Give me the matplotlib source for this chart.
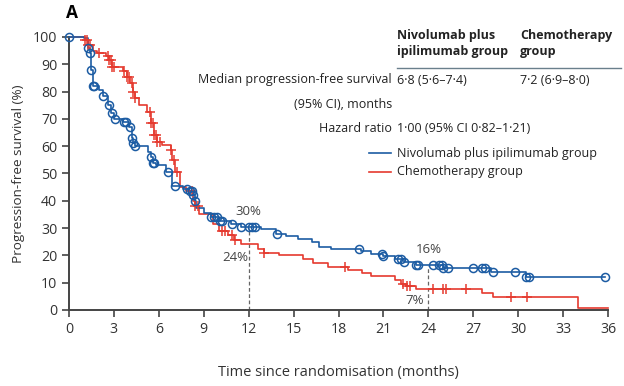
import numpy as np
import matplotlib
matplotlib.use("Agg")
import matplotlib.pyplot as plt

plt.rcParams['font.family'] = ['Open Sans', 'DejaVu Sans']

# Kaplan-Meier step data (months, % progression-free)
nivo_t = [0, 1.0, 1.3, 1.4, 1.45, 1.5, 1.6, 2.0, 2.3, 2.6, 2.8, 3.0, 3.6, 4.0, 4.2, 4.3,
          4.4, 5.3, 5.5, 5.6, 5.8, 6.5, 6.9, 7.6, 8.0, 8.3, 8.4, 8.5, 9.0, 9.5, 10.0,
          10.8, 11.5, 12.8, 13.8, 14.5, 15.3, 16.2, 16.7, 17.5, 19.5, 20.2, 21.0, 21.8,
          22.4, 23.2, 25.0, 28.2, 30.5, 35.8]
nivo_s = [100, 99.5, 96, 94, 92, 88, 82, 80.5, 78.5, 75, 72, 70, 69, 67, 63, 61,
          60, 58, 56, 54, 53, 50.5, 45.5, 44.5, 43.5, 42, 40, 37.5, 35.5, 34, 32.5,
          31.5, 30.3, 29.5, 28, 27, 26, 25, 23, 22.3, 21.5, 20.5, 19.8, 18.5,
          17.6, 16.3, 15.3, 14, 12, 12]
nivo_cens = [0, 1.3, 1.4, 1.5, 1.6, 1.7, 2.3, 2.7, 2.85, 3.1, 3.7, 3.8, 4.1, 4.2, 4.3,
             4.4, 5.5, 5.6, 5.7, 6.6, 7.1, 7.9, 8.1, 8.2, 8.3, 8.4, 9.5, 9.7, 9.9, 10.1,
             10.2, 10.9, 11.5, 12.0, 12.2, 12.4, 13.9, 19.4, 20.9, 21.0, 22.0, 22.2,
             22.4, 23.2, 23.3, 24.3, 24.7, 24.9, 25.0, 25.3, 27.0, 27.6, 27.8, 28.3,
             29.8, 30.5, 30.7, 35.8]

chemo_t = [0, 1.1, 1.3, 1.6, 1.9, 2.5, 2.7, 2.9, 3.6, 3.9, 4.1, 4.3, 4.4, 4.7, 5.2,
           5.5, 5.7, 5.9, 6.2, 6.8, 6.9, 7.1, 7.4, 7.8, 8.3, 8.4, 8.7, 9.6, 10.0,
           10.6, 11.0, 11.5, 12.6, 13.0, 14.0, 15.6, 16.3, 17.3, 18.6, 19.6, 20.2,
           21.8, 22.2, 22.5, 23.2, 27.6, 28.3, 34.0, 36.0]
chemo_s = [100, 99, 97, 95, 94, 93, 91.5, 89, 87.5, 85.5, 83, 80, 77.5, 75, 72.5,
           68.5, 64, 61.5, 60.3, 58.5, 55, 50.5, 45, 43.5, 40, 38, 35, 31.5, 29,
           27.5, 25.5, 24, 22.5, 21, 20, 18.5, 17.2, 15.8, 14.5, 13.5, 12.6,
           11, 9.5, 8.8, 7.6, 6.4, 4.8, 0.8, 0.8]
chemo_cens = [1.1, 1.2, 1.3, 1.4, 2.0, 2.6, 2.7, 2.8, 2.9, 3.0, 3.7, 3.9, 4.0, 4.2,
              4.3, 4.4, 5.4, 5.5, 5.6, 5.7, 5.8, 5.9, 6.1, 6.8, 7.0, 7.2, 8.2, 8.4,
              8.6, 10.2, 10.4, 10.9, 11.1, 13.0, 18.4, 22.3, 22.6, 22.8, 24.3, 25.0,
              25.2, 26.5, 29.5, 30.6]

landmarks = [12, 24]
nivo_landmark = [30, 16]
chemo_landmark = [24, 7]

blue = '#1c5ca3'
red = '#e53a2f'
grey = '#444444'


def step_at(t, s, x):
    idx = np.searchsorted(t, x, side='right') - 1
    return np.asarray(s)[idx]


fig = plt.figure(figsize=(6.24, 3.86), dpi=100)
ax = fig.add_axes([0.1106, 0.1969, 0.8638, 0.7073])

ax.step(nivo_t, nivo_s, where='post', color=blue, lw=1.2, clip_on=False, zorder=3)
ax.step(chemo_t, chemo_s, where='post', color=red, lw=1.2, clip_on=False, zorder=2)
ax.plot(nivo_cens, step_at(nivo_t, nivo_s, nivo_cens), 'o', ms=5.8, mfc='none',
        mec=blue, mew=1.1, clip_on=False, zorder=4)
ax.plot(chemo_cens, step_at(chemo_t, chemo_s, chemo_cens), '+', ms=7,
        mec=red, mew=1.1, clip_on=False, zorder=3)

for x, top in zip(landmarks, nivo_landmark):
    ax.plot([x, x], [0, top], ls=(0, (3, 2)), color='#666666', lw=0.9, zorder=1)

ax.text(12.0, 36, '30%', ha='center', va='center', fontsize=9.5, color=grey)
ax.text(11.1, 19.4, '24%', ha='center', va='center', fontsize=9.5, color=grey)
ax.text(24.0, 22.3, '16%', ha='center', va='center', fontsize=9.5, color=grey)
ax.text(23.1, 3.4, '7%', ha='center', va='center', fontsize=9.5, color=grey)

ax.set_xlim(0, 36)
ax.set_ylim(0, 100)
ax.set_xticks(np.arange(0, 37, 3))
ax.set_yticks(np.arange(0, 101, 10))
for sp in ['top', 'right']:
    ax.spines[sp].set_visible(False)
for sp in ['left', 'bottom']:
    ax.spines[sp].set_linewidth(1.4)
    ax.spines[sp].set_color(grey)
ax.tick_params(direction='out', length=5, width=1.2, color=grey,
               labelsize=10.2, labelcolor='#333333')
ax.set_ylabel('Progression-free survival (%)', fontsize=9.7, color='#333333', labelpad=6)
ax.set_xlabel('Time since randomisation (months)', fontsize=10.5, color='#333333',
              labelpad=20)

# inset table
fs = 9.0
fig.text(66 / 624, 1 - 13 / 386, 'A', fontsize=12.5, fontweight='bold', va='center', ha='left')
fig.text(397 / 624, 1 - 43 / 386, 'Nivolumab plus\nipilimumab group', fontsize=fs,
         fontweight='bold', va='center', ha='left', linespacing=1.3, color='#222222')
fig.text(520 / 624, 1 - 43 / 386, 'Chemotherapy\ngroup', fontsize=fs,
         fontweight='bold', va='center', ha='left', linespacing=1.3, color='#222222')
fig.add_artist(plt.Line2D([397 / 624, 621 / 624], [1 - 68 / 386, 1 - 68 / 386],
                          color='#6a7f8c', lw=1.0))
rows = [(80, 'Median progression-free survival', '6·8 (5·6–7·4)', '7·2 (6·9–8·0)'),
        (104, '(95% CI), months', '', ''),
        (128, 'Hazard ratio', '1·00 (95% CI 0·82–1·21)', '')]
for y, lab, a, b in rows:
    fig.text(392 / 624, 1 - y / 386, lab, fontsize=fs, ha='right', va='center', color='#222222')
    fig.text(397 / 624, 1 - y / 386, a, fontsize=fs, ha='left', va='center', color='#222222')
    fig.text(520 / 624, 1 - y / 386, b, fontsize=fs, ha='left', va='center', color='#222222')

for y, lab, c in [(153, 'Nivolumab plus ipilimumab group', blue),
                  (172, 'Chemotherapy group', red)]:
    fig.add_artist(plt.Line2D([369 / 624, 391 / 624], [1 - y / 386, 1 - y / 386],
                              color=c, lw=1.2))
    fig.text(397 / 624, 1 - y / 386, lab, fontsize=fs, ha='left', va='center', color='#222222')

fig.savefig('out.png', dpi=100)
